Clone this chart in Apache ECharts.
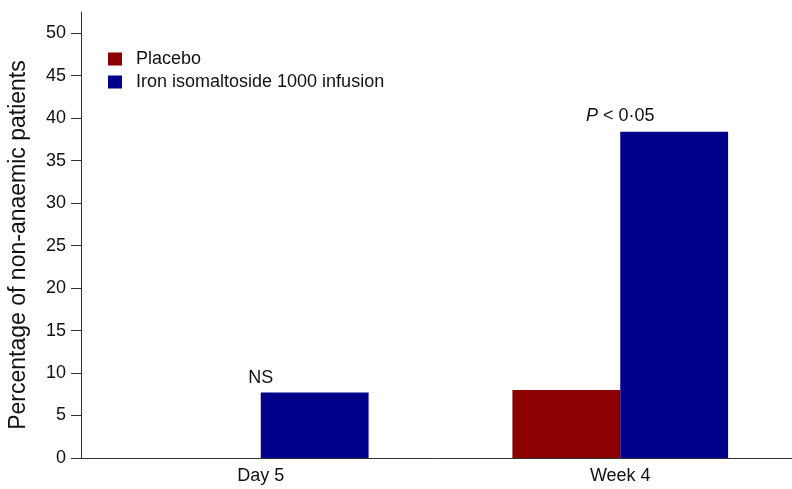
<!DOCTYPE html>
<html><head><meta charset="utf-8">
<script src="https://cdn.jsdelivr.net/npm/echarts@6/dist/echarts.min.js"></script>
<style>html,body{margin:0;padding:0;background:#fff}#c{width:792px;height:489px}</style>
</head><body><div id="c"></div>
<script>
const categories = ['Day 5', 'Week 4'];
const placebo = [0, 8.0];
const iron = [7.7, 38.4];
const yTicks = [0, 5, 10, 15, 20, 25, 30, 35, 40, 45, 50];
const annotations = [['Day 5', 9.4, 'NS'], ['Week 4', 40.3, 'P < 0·05']];

const font = 'Liberation Sans, Arial, sans-serif';
const chart = echarts.init(document.getElementById('c'));
chart.setOption({
  animation: false,
  textStyle: { fontFamily: font },
  grid: { left: 81, width: 719, top: 12, bottom: 31, containLabel: false, outerBoundsMode: 'none' },
  legend: {
    left: 103, top: 45, orient: 'vertical', itemWidth: 14, itemHeight: 13, itemGap: 5,
    icon: 'rect',
    textStyle: { fontSize: 18, color: '#111', fontFamily: font, padding: [0, 0, 0, 9] },
    data: ['Placebo', 'Iron isomaltoside 1000 infusion']
  },
  xAxis: {
    type: 'category', data: categories,
    axisLine: { lineStyle: { color: '#333', width: 1 } },
    axisTick: { show: false },
    axisLabel: { fontSize: 18, color: '#111', margin: 9, fontFamily: font }
  },
  yAxis: {
    type: 'value', min: 0, max: 52.5,
    name: 'Percentage of non-anaemic patients', nameLocation: 'middle', nameGap: 51,
    nameTextStyle: { fontSize: 23, color: '#111', fontFamily: font, padding: [0, 20, 0, 0] },
    splitLine: { show: false },
    axisLine: { show: true, lineStyle: { color: '#333', width: 1 } },
    axisTick: { show: true, length: 10, customValues: yTicks, lineStyle: { color: '#333' } },
    axisLabel: { fontSize: 18, color: '#111', margin: 15, customValues: yTicks, fontFamily: font }
  },
  series: [
    { name: 'Placebo', type: 'bar', data: placebo, itemStyle: { color: '#8B0000' },
      barGap: '0%', barCategoryGap: '40%' },
    { name: 'Iron isomaltoside 1000 infusion', type: 'bar', data: iron, itemStyle: { color: '#00008B' },
      barGap: '0%', barCategoryGap: '40%' },
    { type: 'scatter', symbolSize: 0, silent: true, itemStyle: { opacity: 1, color: '#111' },
      data: annotations.map(a => ({ value: [a[0], a[1]], name: a[2] })),
      label: {
        show: true, position: 'inside', fontSize: 18, color: '#111', fontFamily: font, opacity: 1,
        formatter: p => p.name.startsWith('P') ? '{i|P}' + p.name.slice(1) : p.name,
        rich: { i: { fontStyle: 'italic', fontSize: 18, color: '#111', fontFamily: font } }
      }
    }
  ]
});
</script></body></html>
